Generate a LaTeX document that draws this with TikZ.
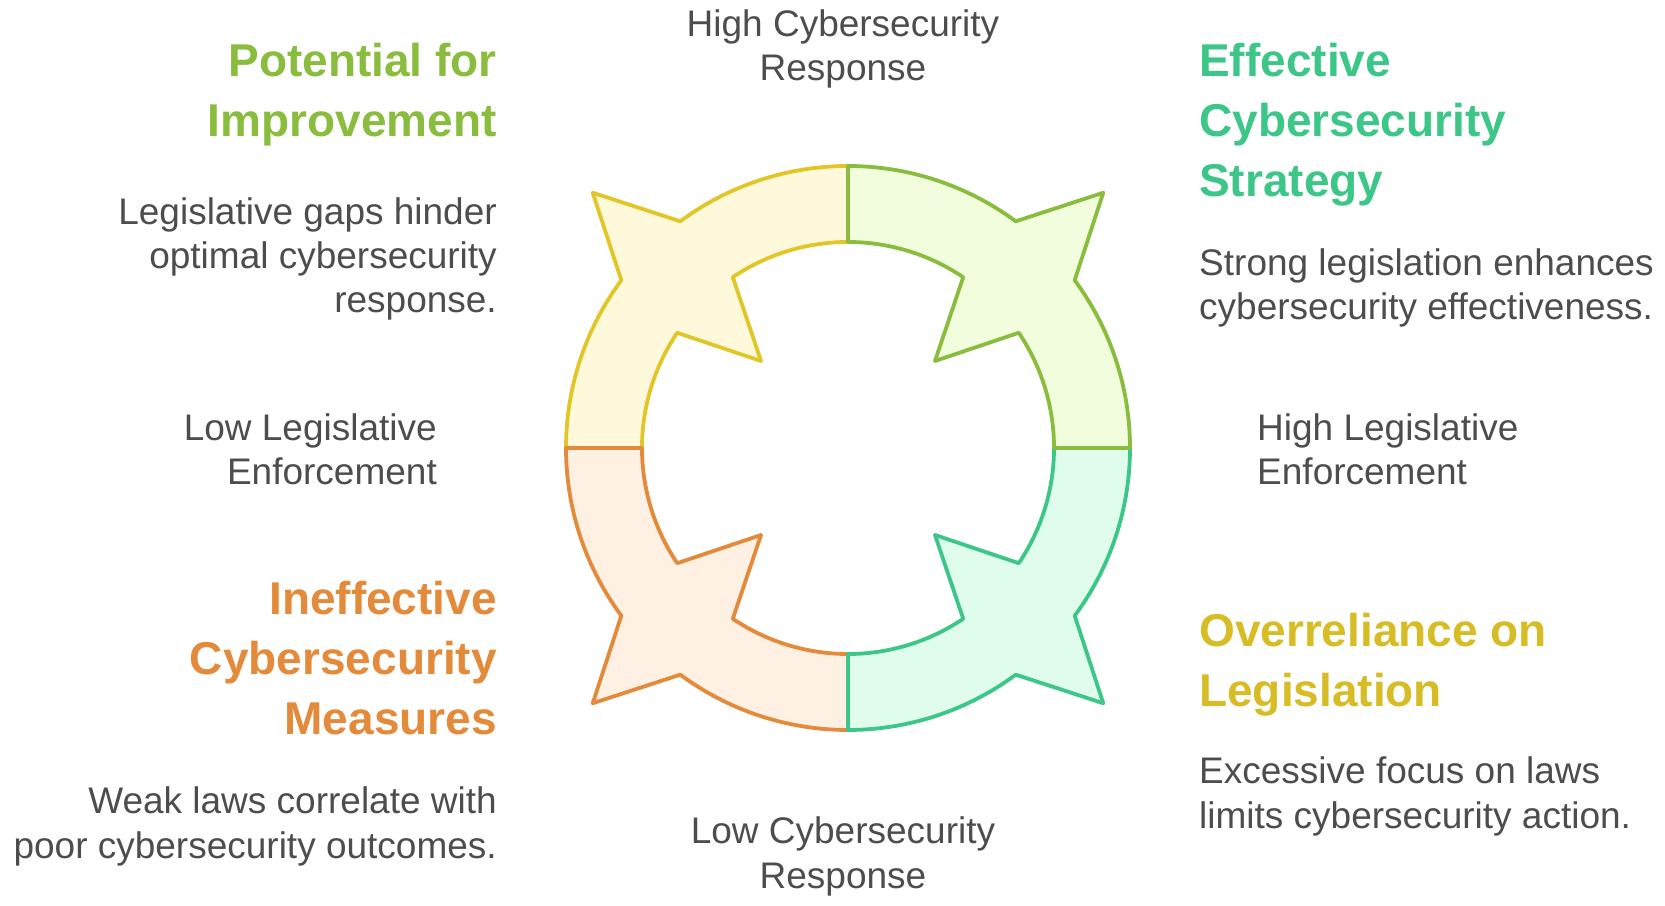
\documentclass[tikz,border=0pt]{standalone}
\usepackage{fontspec}
\setmainfont{Liberation Sans}
\usetikzlibrary{arrows, positioning}

\definecolor{yellowLine}{HTML}{E2C627}
\definecolor{yellowFill}{HTML}{FFF9DC}
\definecolor{oliveLine}{HTML}{8ABD3E}
\definecolor{oliveFill}{HTML}{F1FDDD}
\definecolor{mintLine}{HTML}{3CC788}
\definecolor{mintFill}{HTML}{E0FCEC}
\definecolor{orangeLine}{HTML}{E38A3B}
\definecolor{orangeFill}{HTML}{FEF0E3}
\definecolor{bodyGray}{HTML}{4D4D4D}

\begin{document}
\begin{tikzpicture}
		\tikzstyle{Piece} = [line width=3.8pt, line join=round]
		\tikzstyle{YellowPiece} = [Piece, draw=yellowLine, fill=yellowFill]
		\tikzstyle{OlivePiece} = [Piece, draw=oliveLine, fill=oliveFill]
		\tikzstyle{MintPiece} = [Piece, draw=mintLine, fill=mintFill]
		\tikzstyle{OrangePiece} = [Piece, draw=orangeLine, fill=orangeFill]
		\tikzstyle{TitleText} = [inner sep=0pt, font=\fontsize{46}{60}\selectfont\bfseries]
		\tikzstyle{BodyText} = [inner sep=0pt, text=bodyGray, font=\fontsize{37}{44}\selectfont]
		
		\useasboundingbox (0pt,0pt) rectangle (1665pt,905pt);
		
		% ring of four pieces
		\begin{scope}[shift={(848pt,457pt)}]
		\draw[YellowPiece] (180:206pt) -- (180:282pt) arc[start angle=180, end angle=143.5, radius=282pt] -- (135:361pt) -- (126.5:282pt) arc[start angle=126.5, end angle=90, radius=282pt] -- (90:206pt) arc[start angle=90, end angle=124, radius=206pt] -- (135:123pt) -- (146:206pt) arc[start angle=146, end angle=180, radius=206pt] -- cycle;
		\draw[OrangePiece] (-90:206pt) -- (-90:282pt) arc[start angle=-90, end angle=-126.5, radius=282pt] -- (-135:361pt) -- (-143.5:282pt) arc[start angle=-143.5, end angle=-180, radius=282pt] -- (-180:206pt) arc[start angle=-180, end angle=-146, radius=206pt] -- (-135:123pt) -- (-124:206pt) arc[start angle=-124, end angle=-90, radius=206pt] -- cycle;
		\draw[MintPiece] (0:206pt) -- (0:282pt) arc[start angle=0, end angle=-36.5, radius=282pt] -- (-45:361pt) -- (-53.5:282pt) arc[start angle=-53.5, end angle=-90, radius=282pt] -- (-90:206pt) arc[start angle=-90, end angle=-56, radius=206pt] -- (-45:123pt) -- (-34:206pt) arc[start angle=-34, end angle=0, radius=206pt] -- cycle;
		\draw[OlivePiece] (90:206pt) -- (90:282pt) arc[start angle=90, end angle=53.5, radius=282pt] -- (45:361pt) -- (36.5:282pt) arc[start angle=36.5, end angle=0, radius=282pt] -- (0:206pt) arc[start angle=0, end angle=34, radius=206pt] -- (45:123pt) -- (56:206pt) arc[start angle=56, end angle=90, radius=206pt] -- cycle;
		\end{scope}
		
		% axis labels (base = last line)
		\node (highResp) [BodyText, align=center, anchor=base] at (843pt,824pt) {High Cybersecurity\\Response};
		\node (lowResp) [BodyText, align=center, anchor=base] at (843pt,17pt) {Low Cybersecurity\\Response};
		\node (lowLeg) [BodyText, align=right, anchor=base east] at (437pt,420pt) {Low Legislative\\Enforcement};
		\node (highLeg) [BodyText, align=left, anchor=base west] at (1257pt,420pt) {High Legislative\\Enforcement};
		
		% quadrant texts
		\node (potTitle) [TitleText, text=oliveLine, align=right, anchor=base east] at (497pt,768pt) {Potential for\\Improvement};
		\node (potBody) [BodyText, align=right, anchor=base east] at (497pt,592pt) {Legislative gaps hinder\\optimal cybersecurity\\response.};
		
		\node (effTitle) [TitleText, text=mintLine, align=left, anchor=base west] at (1199pt,708pt) {Effective\\Cybersecurity\\Strategy};
		\node (effBody) [BodyText, align=left, anchor=base west] at (1199pt,585pt) {Strong legislation enhances\\cybersecurity effectiveness.};
		
		\node (ineTitle) [TitleText, text=orangeLine, align=right, anchor=base east] at (497pt,170pt) {Ineffective\\Cybersecurity\\Measures};
		\node (ineBody) [BodyText, align=right, anchor=base east] at (497pt,47pt) {Weak laws correlate with\\poor cybersecurity outcomes.};
		
		\node (ovrTitle) [TitleText, text=yellowLine!95!black, align=left, anchor=base west] at (1199pt,198pt) {Overreliance on\\Legislation};
		\node (ovrBody) [BodyText, align=left, anchor=base west] at (1199pt,77pt) {Excessive focus on laws\\limits cybersecurity action.};
\end{tikzpicture}
\end{document}
